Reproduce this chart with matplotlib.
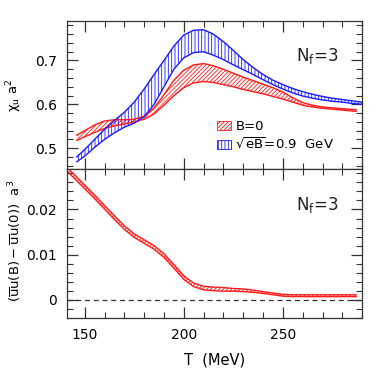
import matplotlib
matplotlib.use("Agg")
import matplotlib.pyplot as plt
from matplotlib.patches import Patch
from matplotlib.ticker import MultipleLocator, FuncFormatter

# chi_u a^2, upper and lower edges of the bands
T_blue = [146, 150, 155, 160, 165, 170, 175, 180, 185, 190, 195, 200, 205, 210,
          215, 220, 225, 230, 235, 240, 245, 250, 255, 260, 265, 270, 275, 280,
          285, 290]
blue_hi = [0.480, 0.497, 0.520, 0.543, 0.563, 0.582, 0.605, 0.635, 0.668, 0.700,
           0.733, 0.758, 0.769, 0.770, 0.760, 0.743, 0.723, 0.702, 0.684, 0.668,
           0.655, 0.645, 0.636, 0.629, 0.623, 0.618, 0.614, 0.611, 0.608, 0.605]
blue_lo = [0.469, 0.482, 0.502, 0.520, 0.535, 0.548, 0.557, 0.572, 0.600, 0.640,
           0.680, 0.706, 0.718, 0.720, 0.712, 0.702, 0.690, 0.679, 0.668, 0.656,
           0.645, 0.635, 0.626, 0.619, 0.614, 0.610, 0.607, 0.605, 0.602, 0.600]

T_red = [146, 150, 155, 160, 165, 170, 175, 180, 185, 190, 195, 200, 205, 210,
         215, 220, 225, 230, 235, 240, 245, 250, 255, 260, 265, 270, 275, 280, 287]
red_hi = [0.530, 0.540, 0.553, 0.562, 0.565, 0.565, 0.566, 0.573, 0.592, 0.622,
          0.655, 0.678, 0.690, 0.693, 0.688, 0.680, 0.671, 0.662, 0.654, 0.646,
          0.638, 0.628, 0.615, 0.604, 0.598, 0.594, 0.592, 0.590, 0.588]
red_lo = [0.518, 0.526, 0.536, 0.545, 0.551, 0.555, 0.560, 0.566, 0.578, 0.598,
          0.620, 0.638, 0.649, 0.652, 0.650, 0.645, 0.640, 0.634, 0.629, 0.624,
          0.618, 0.612, 0.605, 0.598, 0.594, 0.591, 0.589, 0.587, 0.584]

# condensate difference, central value and half width
T_cond = [140, 145, 150, 155, 160, 165, 170, 175, 180, 185, 190, 195, 200, 205,
          210, 215, 220, 225, 230, 235, 240, 245, 250, 255, 260, 270, 280, 287]
cond = [0.0294, 0.0272, 0.0250, 0.0228, 0.0205, 0.0182, 0.0160, 0.0142, 0.0129,
        0.0116, 0.0098, 0.0074, 0.0049, 0.0033, 0.0026, 0.0024, 0.0023, 0.0022,
        0.0021, 0.0019, 0.0016, 0.0013, 0.0010, 0.0009, 0.0009, 0.0009, 0.0009,
        0.0009]
cond_err = [0.0004] * 17 + [0.0003, 0.0003, 0.00025, 0.0002, 0.0002, 0.0002,
                            0.0002, 0.0002, 0.0002, 0.0002, 0.0002]

plt.rcParams['font.family'] = ['DejaVu Sans']
plt.rcParams['mathtext.default'] = 'regular'
plt.rcParams['hatch.linewidth'] = 0.6

fig = plt.figure(figsize=(3.82, 3.82), dpi=100)
ax1 = fig.add_axes([0.175, 0.558, 0.773, 0.387])
ax2 = fig.add_axes([0.175, 0.168, 0.773, 0.390], sharex=ax1)

RED = '#ff1a1a'
BLUE = '#1a1aff'

# upper panel: bands
ax1.fill_between(T_red, red_lo, red_hi, facecolor='none', edgecolor=RED,
                 hatch='////////', linewidth=0)
ax1.plot(T_red, red_hi, color=RED, lw=1.0)
ax1.plot(T_red, red_lo, color=RED, lw=1.0)
ax1.fill_between(T_blue, blue_lo, blue_hi, facecolor='none', edgecolor=BLUE,
                 hatch='|||||', linewidth=0)
ax1.plot(T_blue, blue_hi, color=BLUE, lw=1.0)
ax1.plot(T_blue, blue_lo, color=BLUE, lw=1.0)

handles = [Patch(facecolor='none', edgecolor=RED, hatch='////////', lw=0.6),
           Patch(facecolor='none', edgecolor=BLUE, hatch='|||||', lw=0.6)]
ax1.legend(handles, ['B=0', r'$\sqrt{eB}$=0.9  GeV'], loc='upper left',
           bbox_to_anchor=(0.51, 0.33), frameon=False, fontsize=9.5,
           handlelength=1.0, handleheight=0.6, handletextpad=0.35,
           labelspacing=0.3, borderpad=0, borderaxespad=0)

# lower panel: condensate difference
lo = [c - e for c, e in zip(cond, cond_err)]
hi = [c + e for c, e in zip(cond, cond_err)]
ax2.fill_between(T_cond, lo, hi, facecolor='none', edgecolor=RED,
                 hatch='////////', linewidth=0)
ax2.plot(T_cond, hi, color=RED, lw=1.0)
ax2.plot(T_cond, lo, color=RED, lw=1.0)
ax2.axhline(0, color='#333333', lw=0.9, ls=(0, (4, 3)))

ax1.set_xlim(141, 290)
ax1.set_ylim(0.453, 0.79)
ax2.set_ylim(-0.004, 0.029)

ax1.yaxis.set_major_locator(MultipleLocator(0.1))
ax1.yaxis.set_minor_locator(MultipleLocator(0.02))
ax2.yaxis.set_major_locator(MultipleLocator(0.01))
ax2.yaxis.set_minor_locator(MultipleLocator(0.002))
ax2.xaxis.set_major_locator(MultipleLocator(50))
ax2.xaxis.set_minor_locator(MultipleLocator(10))
fmt = FuncFormatter(lambda v, p: '%g' % round(v, 4))
ax1.yaxis.set_major_formatter(fmt)
ax2.yaxis.set_major_formatter(fmt)

for ax in (ax1, ax2):
    for s in ax.spines.values():
        s.set_color('#333333')
        s.set_linewidth(0.9)
    ax.tick_params(which='both', direction='in', top=True, right=True,
                   color='#333333', labelsize=10)
    ax.tick_params(which='major', length=8, width=0.9, pad=7)
    ax.tick_params(which='minor', length=4, width=0.8)
ax1.tick_params(labelbottom=False)

ax1.set_ylabel(r'$\chi_u\ a^2$', fontsize=9.5)
ax1.yaxis.set_label_coords(-0.145, 0.5)
ax2.set_ylabel(r'$(\overline{u}u(B)-\overline{u}u(0))\ \ a^3$', fontsize=9.5)
ax2.yaxis.set_label_coords(-0.145, 0.52)
ax2.set_xlabel('T  (MeV)', fontsize=10.5)
ax2.xaxis.set_label_coords(0.5, -0.235)

ax1.text(0.775, 0.76, r'$N_f$=3', transform=ax1.transAxes, fontsize=12,
         va='center', color='#222222')
ax2.text(0.775, 0.76, r'$N_f$=3', transform=ax2.transAxes, fontsize=12,
         va='center', color='#222222')

fig.savefig('out.png', dpi=100)
